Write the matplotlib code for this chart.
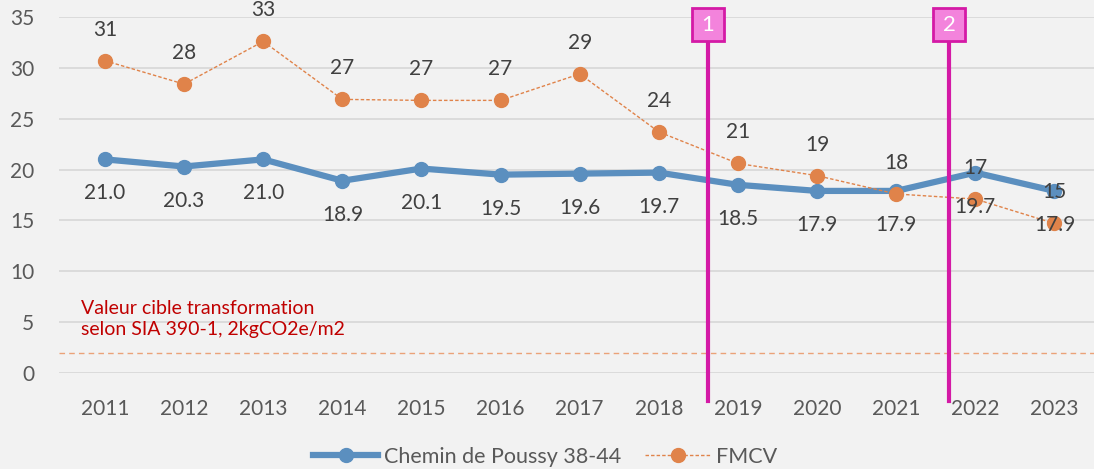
import numpy as np
import matplotlib.pyplot as plt
from matplotlib.patches import Rectangle

# data
years = [2011, 2012, 2013, 2014, 2015, 2016, 2017, 2018, 2019, 2020, 2021, 2022, 2023]
poussy = [21.0, 20.3, 21.0, 18.9, 20.1, 19.5, 19.6, 19.7, 18.5, 17.9, 17.9, 19.7, 17.9]
fmcv = [30.7, 28.4, 32.6, 26.9, 26.8, 26.8, 29.4, 23.7, 20.6, 19.4, 17.6, 17.1, 14.7]
target = 2.0
events = [2018.62, 2021.67]
event_labels = ['1', '2']
target_text = 'Valeur cible transformation\nselon SIA 390-1, 2kgCO2e/m2'

plt.rcParams['font.family'] = ['Lato', 'DejaVu Sans']

bg = '#f2f2f2'
blue = '#5b8fbf'
orange = '#e0834a'
magenta = '#d41aa6'
txt = '#404040'

fig = plt.figure(figsize=(10.94, 4.69), dpi=100, facecolor=bg)
ax = fig.add_axes([0.054, 0.2047, 0.946, 0.7591], facecolor=bg)

x = np.arange(len(years))
ax.set_xlim(-0.58, 12.5)
ax.set_ylim(0, 35)

# grid
ax.set_yticks(range(0, 36, 5))
ax.yaxis.grid(True, color='#d9d9d9', lw=1.3)
ax.set_axisbelow(True)
for s in ax.spines.values():
    s.set_visible(False)
ax.tick_params(length=0, labelsize=15, labelcolor='#595959')
ax.tick_params(axis='y', pad=18)
ax.tick_params(axis='x', pad=19)
ax.set_xticks(x)
ax.set_xticklabels([str(y) for y in years])

# target line
ax.axhline(target, color='#eba278', lw=1, ls=(0, (4, 3)), zorder=1)
ax.text(-0.3, 3.4, target_text, color='#c00000', fontsize=14,
        va='bottom', ha='left', linespacing=1.3)

# series
ax.plot(x, poussy, color=blue, lw=4.5, marker='o', ms=10, label='Chemin de Poussy 38-44', zorder=3)
ax.plot(x, fmcv, color=orange, lw=1, ls=(0, (2.5, 1.5)), marker='o', ms=10, label='FMCV', zorder=3)

for xi, v in zip(x, poussy):
    ax.annotate(f'{v:.1f}', (xi, v), xytext=(0, -34), textcoords='offset pixels',
                ha='center', va='center', fontsize=15, color=txt, zorder=5)
for xi, v in zip(x, fmcv):
    ax.annotate(f'{v:.0f}', (xi, v), xytext=(0, 31), textcoords='offset pixels',
                ha='center', va='center', fontsize=15, color=txt, annotation_clip=False, zorder=5)

# event markers
for ev, lab in zip(events, event_labels):
    xe = ev - years[0]
    ax.plot([xe, xe], [-2.75, 32.7], color=magenta, lw=3, clip_on=False, zorder=4)
    ax.add_patch(Rectangle((xe - 0.2, 32.6), 0.4, 3.25, facecolor='#f383dc', edgecolor=magenta,
                           lw=2, clip_on=False, zorder=4))
    ax.text(xe, 34.2, lab, ha='center', va='center', color='white', fontsize=16, zorder=5)

ax.legend(loc='center', bbox_to_anchor=(0.47, -0.236), ncol=2, frameon=False,
          fontsize=15.5, labelcolor='#595959', handlelength=3.0, columnspacing=1.1,
          handletextpad=0.3, borderaxespad=0, borderpad=0)

fig.savefig('out.png', dpi=100, facecolor=bg)
